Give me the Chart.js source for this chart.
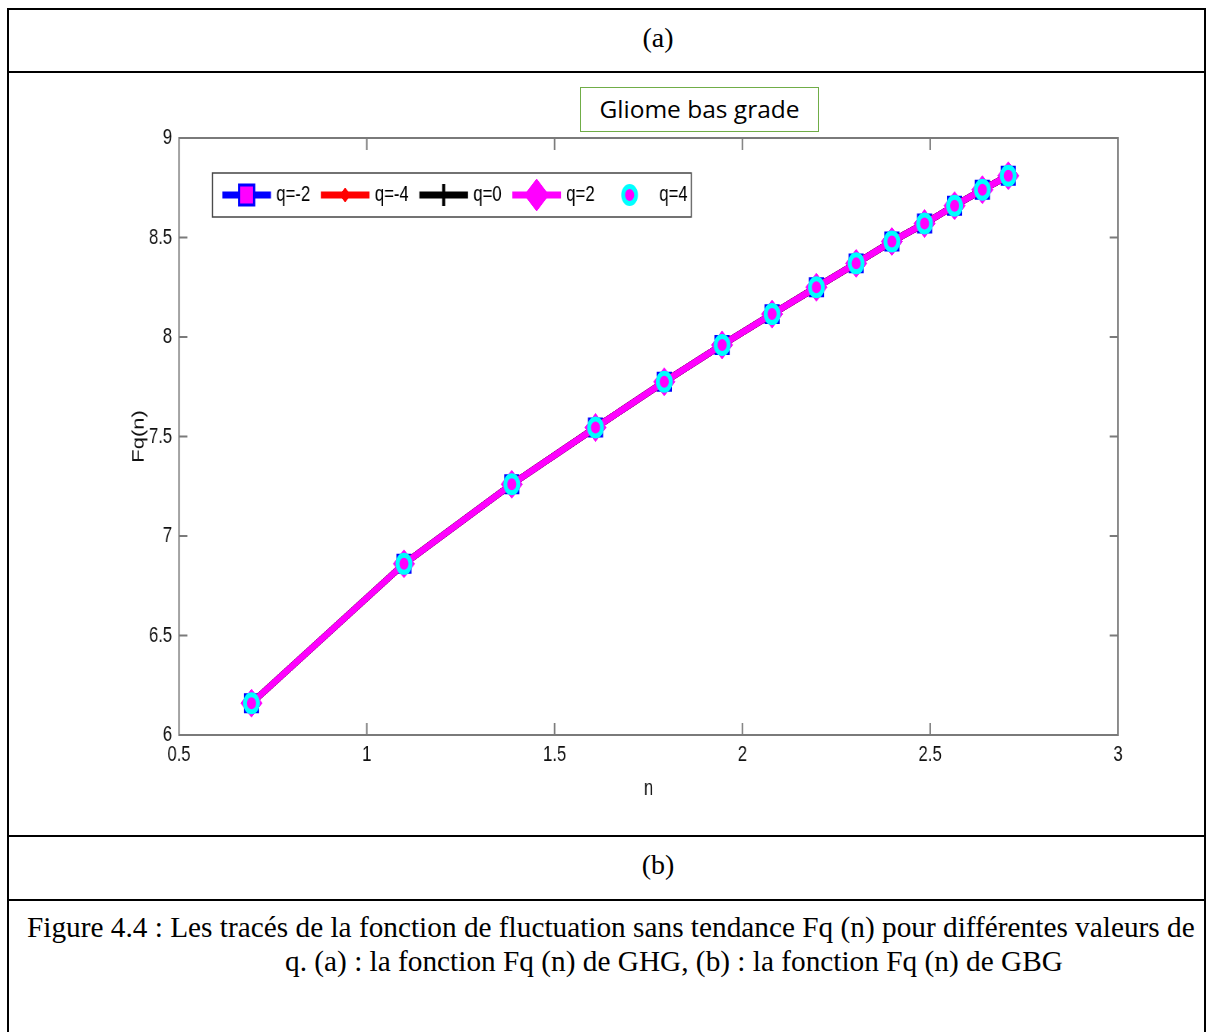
<!DOCTYPE html>
<html>
<head>
<meta charset="utf-8">
<title>Fq(n) - Gliome bas grade</title>
<script src="https://cdn.jsdelivr.net/npm/chart.js"></script>
<style>
  html, body { margin: 0; padding: 0; background: #fff; overflow: hidden; }
  body { width: 1206px; height: 1032px; position: relative; }
  .hl { position: absolute; left: 7px; right: 0; height: 2px; background: #000; }
  .vl { position: absolute; top: 8px; bottom: 0; width: 2px; background: #000; }
  .cell { position: absolute; left: 558px; width: 200px; text-align: center;
          font: 28px "Liberation Serif", "Times New Roman", serif; color: #000; }
  .caption { position: absolute; white-space: nowrap;
             font: 29.3px "Liberation Serif", "Times New Roman", serif; color: #000; }
  #titleBox { position: absolute; left: 580px; top: 87px; width: 239px; height: 45px;
              border: 1.5px solid #70ad47; box-sizing: border-box; background: #fff;
              font: 24.5px "Open Sans", "Noto Sans", sans-serif; color: #000;
              text-align: center; line-height: 41px; z-index: 2; }
  #plot { position: absolute; left: 0; top: 0; transform: scaleX(0.76); transform-origin: 0 0; z-index: 1; }
</style>
</head>
<body>
<div class="hl" style="top:8px"></div>
<div class="hl" style="top:71px"></div>
<div class="hl" style="top:835px"></div>
<div class="hl" style="top:899px"></div>
<div class="vl" style="left:7px"></div>
<div class="vl" style="left:1204px"></div>

<div class="cell" style="top:22px">(a)</div>
<div class="cell" style="top:849px">(b)</div>
<div class="caption" style="left:27px; top:911px">Figure 4.4 : Les tracés de la fonction de fluctuation sans tendance Fq (n) pour différentes valeurs de</div>
<div class="caption" style="left:285px; top:945px">q. (a) : la fonction Fq (n) de GHG, (b) : la fonction Fq (n) de GBG</div>

<div id="titleBox">Gliome bas grade</div>
<canvas id="plot" width="1587" height="1032"></canvas>

<script>
// n values (x axis)
const nValues = [0.693, 1.099, 1.386, 1.609, 1.792, 1.946, 2.079, 2.197, 2.303, 2.398, 2.485, 2.565, 2.639, 2.708];

// Fq(n) for each q -- the five curves lie on top of each other in the figure
const fqQm2 = [6.16, 6.86, 7.26, 7.545, 7.775, 7.96, 8.115, 8.25, 8.37, 8.48, 8.57, 8.66, 8.74, 8.81];
const fqQm4 = [6.16, 6.86, 7.26, 7.545, 7.775, 7.96, 8.115, 8.25, 8.37, 8.48, 8.57, 8.66, 8.74, 8.81];
const fqQ0  = [6.16, 6.86, 7.26, 7.545, 7.775, 7.96, 8.115, 8.25, 8.37, 8.48, 8.57, 8.66, 8.74, 8.81];
const fqQ2  = [6.16, 6.86, 7.26, 7.545, 7.775, 7.96, 8.115, 8.25, 8.37, 8.48, 8.57, 8.66, 8.74, 8.81];
const fqQ4  = [6.16, 6.86, 7.26, 7.545, 7.775, 7.96, 8.115, 8.25, 8.37, 8.48, 8.57, 8.66, 8.74, 8.81];

const seriesLabels = ['q=-2', 'q=-4', 'q=0', 'q=2', 'q=4'];
const xTickLabels = ['0.5', '1', '1.5', '2', '2.5', '3'];
const yTickLabels = ['6', '6.5', '7', '7.5', '8', '8.5', '9'];

function pts(ys) {
  return nValues.map((x, i) => ({ x: x, y: ys[i] }));
}

// canvas is squeezed horizontally by css (scaleX .76), like the exported figure
const tickFont = { family: 'Liberation Sans, Arial, sans-serif', size: 22 };

// frame + inward ticks on all four sides, like matlab "box on"
const framePlugin = {
  id: 'frame',
  afterDraw(chart) {
    const { ctx, chartArea: a, scales } = chart;
    ctx.save();
    ctx.strokeStyle = '#7a7a7a';
    ctx.lineWidth = 2;
    ctx.strokeRect(a.left, a.top, a.right - a.left, a.bottom - a.top);
    ctx.beginPath();
    scales.x.ticks.forEach(t => {
      const px = scales.x.getPixelForValue(t.value);
      if (px <= a.left + 1 || px >= a.right - 1) return;
      ctx.moveTo(px, a.bottom); ctx.lineTo(px, a.bottom - 12);
      ctx.moveTo(px, a.top); ctx.lineTo(px, a.top + 12);
    });
    scales.y.ticks.forEach(t => {
      const py = scales.y.getPixelForValue(t.value);
      if (py <= a.top + 1 || py >= a.bottom - 1) return;
      ctx.moveTo(a.left, py); ctx.lineTo(a.left + 11, py);
      ctx.moveTo(a.right, py); ctx.lineTo(a.right - 11, py);
    });
    ctx.stroke();
    ctx.restore();
  }
};

// legend drawn as matlab does: line sample with its marker, then text
const legendPlugin = {
  id: 'mlegend',
  afterDraw(chart) {
    const { ctx, chartArea: a } = chart;
    const ds = chart.data.datasets;
    const boxL = a.left + 44, boxT = 173, boxW = 630, boxH = 44;
    const cy = boxT + boxH / 2;
    ctx.save();
    ctx.fillStyle = '#fff';
    ctx.fillRect(boxL, boxT, boxW, boxH);
    ctx.strokeStyle = '#444';
    ctx.lineWidth = 1.5;
    ctx.strokeRect(boxL, boxT, boxW, boxH);
    ctx.font = tickFont.size + 'px ' + tickFont.family;
    ctx.textBaseline = 'middle';
    let x = boxL + 13;
    ds.forEach(d => {
      const sw = 64;
      if (d.showLine !== false) {
        ctx.strokeStyle = d.borderColor;
        ctx.lineWidth = 7;
        ctx.beginPath();
        ctx.moveTo(x, cy); ctx.lineTo(x + sw, cy);
        ctx.stroke();
      }
      ctx.fillStyle = d.pointBackgroundColor;
      ctx.strokeStyle = d.pointBorderColor;
      ctx.lineWidth = d.pointBorderWidth;
      if (Chart.helpers && Chart.helpers.drawPoint) {
        Chart.helpers.drawPoint(ctx, {
          pointStyle: d.pointStyle, radius: d.legendRadius || d.pointRadius,
          rotation: 0, borderWidth: d.pointBorderWidth
        }, x + sw / 2, cy);
      }
      ctx.fillStyle = '#000';
      const tx = x + sw + 7;
      ctx.fillText(d.label, tx, cy);
      x = tx + ctx.measureText(d.label).width + 14;
    });
    ctx.restore();
  }
};

const datasets = [
  { label: seriesLabels[0], data: pts(fqQm2), order: 5,
    borderColor: '#0000ff', borderWidth: 7,
    pointStyle: 'rect', pointRadius: 12, legendRadius: 14, pointBorderWidth: 3,
    pointBorderColor: '#0000ff', pointBackgroundColor: '#ff00ff' },
  { label: seriesLabels[1], data: pts(fqQm4), order: 4,
    borderColor: '#ff0000', borderWidth: 7,
    pointStyle: 'rectRot', pointRadius: 7, pointBorderWidth: 1,
    pointBorderColor: '#ff0000', pointBackgroundColor: '#ff0000' },
  { label: seriesLabels[2], data: pts(fqQ0), order: 3,
    borderColor: '#000000', borderWidth: 7,
    pointStyle: 'cross', pointRadius: 11, pointBorderWidth: 4,
    pointBorderColor: '#000000', pointBackgroundColor: '#000000' },
  { label: seriesLabels[3], data: pts(fqQ2), order: 2,
    borderColor: '#ff00ff', borderWidth: 7,
    pointStyle: 'rectRot', pointRadius: 14, legendRadius: 16, pointBorderWidth: 1,
    pointBorderColor: '#ff00ff', pointBackgroundColor: '#ff00ff' },
  { label: seriesLabels[4], data: pts(fqQ4), order: 1, showLine: false,
    borderColor: '#00ffff', borderWidth: 0,
    pointStyle: 'circle', pointRadius: 8.5, pointBorderWidth: 5,
    pointBorderColor: '#00ffff', pointBackgroundColor: '#ff00ff' }
];

new Chart(document.getElementById('plot'), {
  type: 'line',
  data: { datasets: datasets },
  options: {
    responsive: false,
    animation: false,
    devicePixelRatio: 1,
    layout: { padding: { left: 0, top: 138, right: 116, bottom: 0 } },
    elements: { line: { tension: 0 } },
    plugins: { legend: { display: false }, tooltip: { enabled: false } },
    scales: {
      x: {
        type: 'linear', min: 0.5, max: 3,
        grid: { display: false, drawTicks: false },
        border: { display: false },
        ticks: { stepSize: 0.5, padding: 7, color: '#111', font: tickFont,
                 callback: (v, i) => xTickLabels[i] },
        title: { display: true, text: 'n', color: '#111', font: tickFont,
                 padding: { bottom: 230, top: 0 } },
        afterFit: s => { s.height = 297; }
      },
      y: {
        type: 'linear', min: 6, max: 9,
        grid: { display: false, drawTicks: false },
        border: { display: false },
        ticks: { stepSize: 0.5, padding: 9, color: '#111', font: tickFont,
                 callback: (v, i) => yTickLabels[i] },
        title: { display: true, text: 'Fq(n)', color: '#111', font: tickFont,
                 padding: { top: 170, bottom: 0 } },
        afterFit: s => { s.width = 235.5; }
      }
    }
  },
  plugins: [framePlugin, legendPlugin]
});
</script>
</body>
</html>
